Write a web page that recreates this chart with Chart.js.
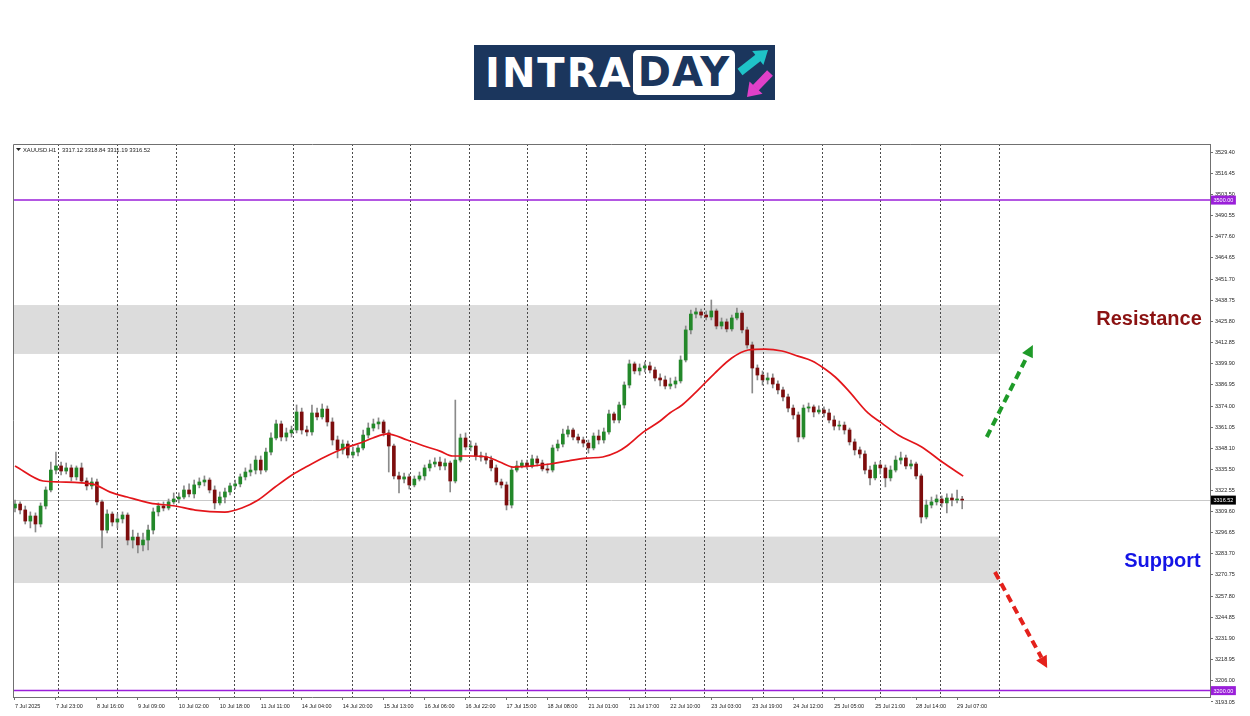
<!DOCTYPE html>
<html>
<head>
<meta charset="utf-8">
<title>XAUUSD H1 - Intraday</title>
<script src="https://cdn.jsdelivr.net/npm/chart.js@4.4.0/dist/chart.umd.min.js"></script>
<style>
  html, body { margin: 0; padding: 0; background: #fff; }
  #wrap { position: relative; width: 1250px; height: 716px; }
  #logo { position: absolute; left: 474px; top: 45px; width: 301px; height: 55px; background: #1b365d; }
  #logo .intra { position: absolute; left: 11px; top: 6px; font: bold 40px "DejaVu Sans"; line-height: 44px; color: #fff; letter-spacing: 2px; }
  #logo .day { position: absolute; left: 159px; top: 5px; width: 102px; height: 45px; background: #fff; border-radius: 5px;
               font: bold 40px "DejaVu Sans"; line-height: 45px; color: #1b365d; text-align: center; letter-spacing: 1px; }
  #logo svg { position: absolute; left: 263px; top: 3px; }
</style>
</head>
<body>
<div id="wrap">
  <canvas id="myChart" width="1250" height="716"></canvas>
  <div id="logo">
    <div class="intra">INTRA</div>
    <div class="day">DAY</div>
    <svg width="36" height="50" viewBox="0 0 36 50">
      <line x1="3" y1="24" x2="21.5" y2="9.5" stroke="#1fc3c8" stroke-width="8"/>
      <polygon points="31,2 26.4,17.1 15.2,2.9" fill="#1fc3c8"/>
      <line x1="33" y1="25" x2="18.5" y2="40" stroke="#e040c8" stroke-width="8"/>
      <polygon points="10,49 25.5,45.8 12.5,33.4" fill="#e040c8"/>
    </svg>
  </div>
</div>
<script>
// H2 candles, index 0 = first bar on 7 Jul 2025
const openP = [
  3311.7,3314.1,3310.5,3303.7,3306.8,3301.9,3312.9,3322.7,3334.9,3337.4,
  3334.3,3336.2,3330.7,3336.2,3328.2,3325.2,3327.6,3315.4,3298.2,3308.0,
  3303.1,3305.0,3307.4,3292.1,3293.9,3289.1,3292.1,3298.2,3309.3,3312.9,
  3311.7,3315.4,3317.2,3318.4,3322.7,3320.3,3325.8,3327.6,3328.8,3322.7,
  3314.8,3318.4,3321.5,3325.2,3326.4,3330.7,3333.7,3334.9,3341.0,3334.9,
  3345.9,3354.5,3363.1,3355.1,3357.6,3359.4,3370.4,3359.4,3358.2,3369.8,
  3367.4,3372.2,3364.3,3353.3,3347.2,3350.8,3344.1,3345.9,3348.4,3356.3,
  3360.6,3363.1,3364.3,3357.6,3349.6,3331.3,3329.4,3330.7,3325.8,3329.4,
  3331.3,3336.2,3338.6,3339.8,3337.4,3339.2,3328.2,3341.0,3354.5,3349.0,
  3349.6,3343.5,3342.9,3341.0,3336.2,3327.6,3325.8,3313.5,3334.9,3337.4,
  3339.2,3337.4,3341.7,3339.2,3335.6,3334.9,3348.4,3350.8,3356.9,3359.4,
  3355.1,3353.3,3351.4,3348.4,3355.7,3353.3,3358.2,3369.2,3365.5,3374.7,
  3386.9,3399.8,3395.5,3397.3,3398.6,3396.1,3391.2,3390.0,3386.3,3387.5,
  3389.4,3402.2,3420.6,3430.3,3431.6,3429.7,3428.5,3432.2,3423.0,3425.5,
  3421.2,3427.9,3430.9,3420.6,3411.4,3397.3,3393.0,3390.0,3391.2,3387.5,
  3383.9,3379.6,3372.8,3368.6,3355.1,3372.8,3373.5,3370.4,3371.6,3369.8,
  3365.5,3361.8,3362.4,3359.4,3352.1,3347.2,3344.7,3334.9,3330.1,3338.0,
  3336.2,3330.1,3334.9,3341.0,3342.3,3337.4,3338.6,3331.3,3306.2,3313.5,
  3315.4,3317.2,3314.8,3317.8,3316.6,3317.12
];
const highP = [
  3316.6,3315.4,3312.9,3309.3,3308.7,3314.8,3324.6,3339.8,3345.9,3339.8,
  3339.2,3338.0,3337.4,3339.2,3330.1,3330.1,3329.4,3316.6,3310.5,3309.3,
  3308.0,3309.3,3308.7,3298.2,3296.4,3296.4,3301.3,3311.7,3314.8,3315.4,
  3317.2,3320.9,3320.9,3325.2,3326.4,3328.8,3330.1,3331.3,3330.1,3325.2,
  3321.5,3323.9,3327.0,3328.8,3332.5,3336.2,3338.6,3343.5,3343.5,3348.4,
  3357.6,3365.5,3364.9,3360.6,3361.8,3374.7,3372.8,3361.8,3374.7,3372.8,
  3375.3,3374.1,3366.8,3355.7,3353.3,3352.7,3349.0,3350.2,3359.4,3363.7,
  3366.1,3366.8,3365.5,3359.4,3350.8,3333.7,3333.1,3332.5,3331.3,3333.7,
  3338.0,3341.0,3342.3,3342.9,3341.7,3340.4,3377.7,3356.9,3357.6,3352.7,
  3351.4,3345.9,3345.3,3343.5,3338.0,3329.4,3327.6,3336.8,3340.4,3341.0,
  3341.0,3344.1,3343.5,3341.0,3338.6,3350.2,3353.3,3360.0,3361.8,3360.6,
  3356.9,3355.1,3353.3,3357.6,3359.4,3360.6,3371.6,3370.4,3376.5,3388.8,
  3402.2,3401.0,3399.8,3401.0,3401.0,3397.9,3393.7,3392.4,3391.2,3391.8,
  3404.7,3423.0,3432.8,3434.0,3433.4,3432.2,3438.9,3433.4,3427.9,3427.3,
  3429.7,3434.0,3432.2,3422.4,3413.2,3399.2,3395.5,3394.3,3393.7,3389.4,
  3385.7,3381.4,3374.7,3370.4,3374.7,3375.9,3374.7,3374.1,3373.5,3372.2,
  3368.0,3364.9,3364.3,3360.6,3353.9,3349.0,3346.6,3337.4,3339.8,3340.4,
  3338.0,3337.4,3343.5,3345.9,3344.1,3341.0,3339.8,3332.5,3316.6,3318.4,
  3319.7,3319.1,3320.3,3320.3,3322.7,3318.84
];
const lowP = [
  3309.3,3308.0,3301.9,3299.5,3297.0,3300.1,3311.1,3321.5,3332.5,3331.9,
  3332.5,3328.2,3328.8,3327.0,3322.7,3323.3,3313.5,3287.2,3296.4,3300.7,
  3299.5,3302.5,3289.1,3287.2,3284.2,3285.4,3286.0,3295.8,3306.8,3309.9,
  3310.5,3314.1,3314.8,3317.2,3318.4,3317.8,3324.0,3325.2,3320.9,3311.1,
  3313.5,3314.8,3319.7,3323.3,3324.6,3328.8,3331.3,3332.5,3332.5,3333.7,
  3344.1,3353.3,3352.7,3352.7,3355.1,3357.6,3356.9,3355.7,3356.3,3365.5,
  3366.1,3361.8,3350.2,3342.3,3344.7,3342.3,3342.3,3343.5,3347.2,3354.5,
  3358.8,3360.0,3355.7,3333.7,3329.4,3320.9,3327.0,3323.3,3324.6,3328.2,
  3328.8,3334.3,3336.8,3334.9,3334.9,3321.5,3327.0,3339.8,3347.2,3346.6,
  3341.0,3340.4,3338.6,3334.3,3325.8,3323.9,3310.5,3311.7,3333.7,3336.2,
  3335.6,3336.2,3337.4,3334.3,3333.1,3333.7,3346.6,3349.0,3355.1,3353.3,
  3351.4,3349.0,3345.3,3347.2,3350.8,3351.4,3356.9,3363.7,3363.7,3372.8,
  3385.1,3393.7,3393.0,3394.9,3394.3,3389.4,3386.3,3384.5,3384.5,3385.1,
  3388.1,3401.0,3418.1,3427.9,3427.9,3426.7,3426.7,3421.2,3421.2,3419.4,
  3419.9,3426.7,3418.7,3409.5,3382.0,3390.0,3386.9,3387.5,3385.1,3381.4,
  3377.1,3370.4,3366.1,3352.1,3353.9,3370.4,3367.4,3369.2,3367.4,3363.7,
  3359.4,3359.4,3356.9,3350.2,3344.1,3342.3,3332.5,3325.8,3328.8,3332.5,
  3324.6,3328.2,3333.7,3338.6,3335.6,3335.6,3329.4,3302.5,3305.0,3311.7,
  3313.5,3312.3,3308.7,3312.9,3314.8,3311.19
];
const closeP = [
  3314.1,3310.5,3303.7,3306.8,3301.9,3312.9,3322.7,3334.9,3337.4,3334.3,
  3336.2,3330.7,3336.2,3328.2,3325.2,3327.6,3315.4,3298.2,3308.0,3303.1,
  3305.0,3307.4,3292.1,3293.9,3289.1,3292.1,3298.2,3309.3,3312.9,3311.7,
  3315.4,3317.2,3318.4,3322.7,3320.3,3325.8,3327.6,3328.8,3322.7,3314.8,
  3318.4,3321.5,3325.2,3326.4,3330.7,3333.7,3334.9,3341.0,3334.9,3345.9,
  3354.5,3363.1,3355.1,3357.6,3359.4,3370.4,3359.4,3358.2,3369.8,3367.4,
  3372.2,3364.3,3353.3,3347.2,3350.8,3344.1,3345.9,3348.4,3356.3,3360.6,
  3363.1,3364.3,3357.6,3349.6,3331.3,3329.4,3330.7,3325.8,3329.4,3331.3,
  3336.2,3338.6,3339.8,3337.4,3339.2,3328.2,3341.0,3354.5,3349.0,3349.6,
  3343.5,3342.9,3341.0,3336.2,3327.6,3325.8,3313.5,3334.9,3337.4,3339.2,
  3337.4,3341.7,3339.2,3335.6,3334.9,3348.4,3350.8,3356.9,3359.4,3355.1,
  3353.3,3351.4,3348.4,3355.7,3353.3,3358.2,3369.2,3365.5,3374.7,3386.9,
  3399.8,3395.5,3397.3,3398.6,3396.1,3391.2,3390.0,3386.3,3387.5,3389.4,
  3402.2,3420.6,3430.3,3431.6,3429.7,3428.5,3432.2,3423.0,3425.5,3421.2,
  3427.9,3430.9,3420.6,3411.4,3397.3,3393.0,3390.0,3391.2,3387.5,3383.9,
  3379.6,3372.8,3368.6,3355.1,3372.8,3373.5,3370.4,3371.6,3369.8,3365.5,
  3361.8,3362.4,3359.4,3352.1,3347.2,3344.7,3334.9,3330.1,3338.0,3336.2,
  3330.1,3334.9,3341.0,3342.3,3337.4,3338.6,3331.3,3306.2,3313.5,3315.4,
  3317.2,3314.8,3317.8,3316.6,3317.1,3316.52
];

// red moving average, read at these bar positions
const maX = [0,5.5,8.8,15.2,18.6,21.9,26.4,31.3,35.2,41,44.3,47.5,50.8,54.1,57.2,60.5,63.9,67.4,69.9,72.7,
  76.6,80.5,83,85.5,88.9,92.2,94.7,97.3,101.2,104.5,107.8,111.7,114.8,117.6,119.5,122.7,126,127.9,130.3,133.4,
  136.7,140,143.2,146.5,149.8,152.9,155.7,158.2,160.2,162.7,166.6,169.3,172.5,177.1,181.1,185.2];
const maY = [3337.4,3328.2,3327.6,3326.3,3321.4,3318.4,3314.7,3312.9,3310.4,3309.2,3311.7,3316.6,3324.5,3331.9,3337.4,3342.9,3347.8,3351.4,3354.5,3357.0,
  3353.3,3349.0,3346.5,3343.5,3343.5,3342.9,3339.8,3336.7,3337.4,3338.6,3340.4,3342.2,3342.9,3345.9,3349.6,3358.1,3364.9,3369.8,3374.7,3383.8,
  3394.2,3403.4,3408.3,3408.9,3407.7,3404.6,3401.6,3396.7,3391.8,3383.8,3369.8,3363.6,3356.3,3349.0,3339.8,3331.2];

// time axis
const xLabelPos = [0,8,16,24,32,40,48,56,64,72,80,88,96,104,112,120,128,136,144,152,160,168,176,184];
const xLabels = ['7 Jul 2025','7 Jul 23:00','8 Jul 16:00','9 Jul 09:00','10 Jul 02:00','10 Jul 18:00','11 Jul 11:00',
  '14 Jul 04:00','14 Jul 20:00','15 Jul 13:00','16 Jul 06:00','16 Jul 22:00','17 Jul 15:00','18 Jul 08:00',
  '21 Jul 01:00','21 Jul 17:00','22 Jul 10:00','23 Jul 03:00','23 Jul 19:00','24 Jul 12:00','25 Jul 05:00',
  '25 Jul 21:00','28 Jul 14:00','29 Jul 07:00'];
const dayLines = [8.4,19.9,31.5,42.8,54.3,65.8,77.1,88.7,100.0,111.5,123.0,134.6,146.1,157.6,169.0,180.7,192.2];

// price axis
const yTicks = [3529.40,3516.45,3503.50,3490.55,3477.60,3464.65,3451.70,3438.75,3425.80,3412.85,3399.90,3386.95,
  3374.00,3361.05,3348.10,3335.50,3322.55,3309.60,3296.65,3283.70,3270.75,3257.80,3244.85,3231.90,3218.95,3206.00,3193.05];

// levels and zones
const levelLines = [3500.00, 3200.00];
const lastPrice = 3316.52;
const zoneTop = [3435.8, 3294.2];
const zoneBottom = [3405.9, 3265.8];
const zoneEnd = 192.2;
const zoneNames = ['Resistance', 'Support'];
const zoneNameAt = [[231.8, 3426.7], [231.6, 3278.7]];
const arrowFrom = [[189.8, 3355.1], [191.4, 3272.5]];
const arrowTo = [[198.8, 3411.4], [201.6, 3213.8]];

const BULL = '#23882a', BEAR = '#7d0d0d', WICK = '#8a8a8a', VIOLET = '#9a1fd9';
const FONT = 'Liberation Sans';

function dashedArrow(ctx, x0, y0, x1, y1, color) {
  const ang = Math.atan2(y1 - y0, x1 - x0), head = 12, half = 6;
  const xs = x1 - Math.cos(ang) * head, ys = y1 - Math.sin(ang) * head;
  ctx.strokeStyle = color;
  ctx.lineWidth = 4;
  ctx.setLineDash([8, 5]);
  ctx.beginPath(); ctx.moveTo(x0, y0); ctx.lineTo(xs, ys); ctx.stroke();
  ctx.setLineDash([]);
  ctx.fillStyle = color;
  ctx.beginPath();
  ctx.moveTo(x1, y1);
  ctx.lineTo(xs + Math.cos(ang + Math.PI / 2) * half, ys + Math.sin(ang + Math.PI / 2) * half);
  ctx.lineTo(xs - Math.cos(ang + Math.PI / 2) * half, ys - Math.sin(ang + Math.PI / 2) * half);
  ctx.closePath(); ctx.fill();
}

function priceTag(ctx, area, yScale, value, bg) {
  const py = yScale.getPixelForValue(value);
  const txt = value.toFixed(2);
  ctx.font = '5.5px "' + FONT + '"';
  const w = ctx.measureText(txt).width + 5;
  ctx.fillStyle = bg;
  ctx.fillRect(area.right + 1, py - 4.5, w, 9);
  ctx.fillStyle = '#fff';
  ctx.textAlign = 'left'; ctx.textBaseline = 'middle';
  ctx.fillText(txt, area.right + 3.5, py + 0.5);
}

const overlay = {
  id: 'overlay',
  beforeDatasetsDraw(chart) {
    const { ctx, chartArea: a, scales: { x, y } } = chart;
    ctx.save();
    ctx.beginPath(); ctx.rect(a.left, a.top, a.width, a.height); ctx.clip();
    // support / resistance zones
    ctx.fillStyle = '#dcdcdc';
    zoneTop.forEach((t, k) => {
      const x0 = a.left, x1 = x.getPixelForValue(zoneEnd);
      const y0 = y.getPixelForValue(t), y1 = y.getPixelForValue(zoneBottom[k]);
      ctx.fillRect(x0, y0, x1 - x0, y1 - y0);
    });
    // current price line
    ctx.strokeStyle = '#c9c9c9'; ctx.lineWidth = 1;
    const yp = Math.round(y.getPixelForValue(lastPrice)) + 0.5;
    ctx.beginPath(); ctx.moveTo(a.left, yp); ctx.lineTo(a.right, yp); ctx.stroke();
    // day separators
    ctx.strokeStyle = '#4a4a4a'; ctx.setLineDash([2, 2]);
    dayLines.forEach(d => {
      const xp = Math.round(x.getPixelForValue(d)) + 0.5;
      ctx.beginPath(); ctx.moveTo(xp, a.top); ctx.lineTo(xp, a.bottom); ctx.stroke();
    });
    ctx.restore();
  },
  afterDraw(chart) {
    const { ctx, chartArea: a, scales: { x, y } } = chart;
    ctx.save();
    // horizontal levels
    ctx.strokeStyle = VIOLET; ctx.lineWidth = 1.5;
    levelLines.forEach(v => {
      const py = y.getPixelForValue(v);
      ctx.beginPath(); ctx.moveTo(a.left, py); ctx.lineTo(a.right, py); ctx.stroke();
    });
    levelLines.forEach(v => priceTag(ctx, a, y, v, VIOLET));
    priceTag(ctx, a, y, lastPrice, '#000');

    // frame
    ctx.strokeStyle = '#707070'; ctx.lineWidth = 1;
    ctx.beginPath();
    ctx.moveTo(a.left + 0.5, a.bottom); ctx.lineTo(a.left + 0.5, a.top + 0.5); ctx.lineTo(a.right, a.top + 0.5);
    ctx.stroke();

    // symbol header
    ctx.fillStyle = '#222';
    ctx.beginPath();
    ctx.moveTo(a.left + 3, a.top + 4); ctx.lineTo(a.left + 8, a.top + 4); ctx.lineTo(a.left + 5.5, a.top + 7);
    ctx.closePath(); ctx.fill();
    ctx.font = '5.8px "' + FONT + '"';
    ctx.textAlign = 'left'; ctx.textBaseline = 'middle';
    ctx.fillText('XAUUSD.H1', a.left + 10, a.top + 6);
    ctx.fillText('3317.12 3318.84 3311.19 3316.52', a.left + 49, a.top + 6);

    // zone names
    ctx.font = 'bold 20px "' + FONT + '"';
    ctx.textAlign = 'right'; ctx.textBaseline = 'middle';
    const nameColors = ['#8b1212', '#1414e6'];
    zoneNames.forEach((n, k) => {
      ctx.fillStyle = nameColors[k];
      ctx.fillText(n, x.getPixelForValue(zoneNameAt[k][0]), y.getPixelForValue(zoneNameAt[k][1]));
    });

    // direction arrows
    const arrowColors = ['#1e9a28', '#e4211c'];
    arrowFrom.forEach((f, k) => {
      dashedArrow(ctx, x.getPixelForValue(f[0]), y.getPixelForValue(f[1]),
        x.getPixelForValue(arrowTo[k][0]), y.getPixelForValue(arrowTo[k][1]), arrowColors[k]);
    });
    ctx.restore();
  }
};

const wickData = closeP.map((c, i) => ({ x: i, y: [lowP[i], highP[i]] }));
const bodyData = closeP.map((c, i) => ({ x: i, y: [openP[i], c] }));
const bodyColors = closeP.map((c, i) => (c >= openP[i] ? BULL : BEAR));
const maData = maX.map((v, i) => ({ x: v, y: maY[i] }));

const tickFont = { family: FONT, size: 5.5 };

new Chart(document.getElementById('myChart'), {
  type: 'bar',
  data: {
    datasets: [
      { type: 'line', data: maData, borderColor: '#e3161b', borderWidth: 1.7, pointRadius: 0,
        tension: 0.4, cubicInterpolationMode: 'monotone', order: 0 },
      { data: bodyData, backgroundColor: bodyColors, barThickness: 3, minBarLength: 1, grouped: false, order: 1 },
      { data: wickData, backgroundColor: WICK, barThickness: 1, grouped: false, order: 2 }
    ]
  },
  options: {
    responsive: false,
    animation: false,
    devicePixelRatio: 1,
    layout: { padding: { left: 13, top: 144, right: 0, bottom: 0 } },
    plugins: { legend: { display: false }, tooltip: { enabled: false } },
    scales: {
      x: {
        type: 'linear', min: -0.39, max: 233.4, bounds: 'data', offset: false,
        afterBuildTicks: s => { s.ticks = xLabelPos.map(v => ({ value: v })); },
        afterFit: s => { s.height = 19; },
        ticks: { callback: (v, i) => xLabels[i], align: 'start', maxRotation: 0, autoSkip: false,
                 padding: 3, font: tickFont, color: '#222' },
        grid: { drawOnChartArea: false, offset: false, tickLength: 3, color: '#707070' },
        border: { color: '#707070' }
      },
      y: {
        position: 'right', min: 3196.1, max: 3534.3, bounds: 'data',
        afterBuildTicks: s => { s.ticks = yTicks.map(v => ({ value: v })); },
        afterFit: s => { s.width = 40; },
        ticks: { callback: v => v.toFixed(2), padding: 2, font: tickFont, color: '#222' },
        grid: { drawOnChartArea: false, tickLength: 3, color: '#707070' },
        border: { color: '#707070' }
      }
    }
  },
  plugins: [overlay]
});
</script>
</body>
</html>
